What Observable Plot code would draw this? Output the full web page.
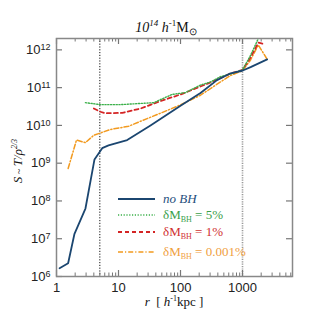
<!DOCTYPE html>
<html><head><meta charset="utf-8">
<script src="https://cdn.jsdelivr.net/npm/d3@7"></script>
<script src="https://cdn.jsdelivr.net/npm/@observablehq/plot@0.6"></script>
<style>body{margin:0;background:#fff} svg{display:block}</style>
</head><body><div id="chart"></div>
<script>
// ---- data (r in h^-1 kpc, entropy S) ----
const rNoBH = [1.12, 1.54, 1.95, 2.93, 4.1, 5.46, 6.9, 13.8, 32.8, 100, 210, 388, 640, 985, 1350, 2500];
const sNoBH = [1.66e6, 2.24e6, 1.35e7, 6.3e7, 1.26e9, 2.5e9, 2.95e9, 4.1e9, 1.0e10, 3.3e10, 7.2e10, 1.58e11, 2.4e11, 2.8e11, 3.5e11, 5.6e11];

const r5 = [2.93, 5.1, 10.8, 37, 73, 120, 210, 305, 440, 640, 1000, 1350, 1800];
const s5 = [4.0e10, 3.55e10, 3.55e10, 4.0e10, 6.6e10, 7.4e10, 1.17e11, 1.41e11, 1.95e11, 2.3e11, 2.95e11, 7.2e11, 2.0e12];

const r1 = [4.0, 5.1, 6.2, 11.5, 22.7, 47.5, 100, 175, 305, 640, 1000, 1350, 1800, 2300];
const s1 = [2.8e10, 2.3e10, 2.1e10, 2.15e10, 2.8e10, 4.4e10, 6.6e10, 9.5e10, 1.38e11, 2.35e11, 2.95e11, 6.3e11, 1.55e12, 1.4e12];

const r001 = [1.54, 2.1, 2.93, 4.0, 5.1, 7.4, 14.6, 22.7, 47.5, 100, 210, 370, 640, 1000, 1350, 1800, 2500];
const s001 = [7.2e8, 4.1e9, 3.5e9, 5.5e9, 6.3e9, 7.8e9, 9.5e9, 1.29e10, 2.1e10, 3.5e10, 6.3e10, 1.17e11, 2.1e11, 2.8e11, 5.4e11, 1.35e12, 5.6e11];

const refLines = [5, 1000];
const xMajor = [1, 10, 100, 1000];
const xLabels = ["1", "10", "100", "1000"];
const xMinor = [2,3,4,5,6,7,8,9,20,30,40,50,60,70,80,90,200,300,400,500,600,700,800,900,2000,3000,4000,5000,6000];
const yMajor = [1e6, 1e7, 1e8, 1e9, 1e10, 1e11, 1e12];
const yExp = ["6", "7", "8", "9", "10", "11", "12"];

const seriesNames = ["no BH", "5%", "1%", "0.001%"];
const colors = ["#1b4670", "#3bb04a", "#d42424", "#f29a1f"];
const textColors = ["#1f4f7d", "#3aa04a", "#d03030", "#f0a040"];
const dashes = [null, "1.2,1.6", "4,3", "5,2,1.2,2"];
const widths = [1.8, 1.4, 1.8, 1.5];

const W = 316, H = 316, mL = 56, mR = 24, mT = 38, mB = 40;
const pw = W - mL - mR, ph = H - mT - mB;

const rs = [rNoBH, r5, r1, r001];
const ss = [sNoBH, s5, s1, s001];
const lineMarks = rs.map((r, k) => Plot.line(r.map((v, i) => ({r: v, s: ss[k][i]})), {
  x: "r", y: "s", stroke: colors[k], strokeWidth: widths[k],
  strokeDasharray: dashes[k], clip: true
})).reverse();

const tickStroke = "#777";
const plot = Plot.plot({
  width: W, height: H,
  marginLeft: mL, marginRight: mR, marginTop: mT, marginBottom: mB,
  style: {fontFamily: "'Liberation Sans', Arial, sans-serif", fontSize: "13px", color: "#222", background: "#fff"},
  x: {type: "log", domain: [1, 6400]},
  y: {type: "log", domain: [1e6, 2e12]},
  marks: [
    Plot.ruleX([refLines[0]], {stroke: "#111", strokeWidth: 1, strokeDasharray: "1.2,1.6"}),
    Plot.ruleX([refLines[1]], {stroke: "#999", strokeWidth: 1.6, strokeDasharray: "1.2,1.2"}),
    ...lineMarks,
    // inward ticks
    Plot.ruleX(xMajor, {x: d => d, insetTop: ph - 6, stroke: tickStroke, strokeWidth: 1.2}),
    Plot.ruleX(xMajor, {x: d => d, insetBottom: ph - 6, stroke: tickStroke, strokeWidth: 1.2}),
    Plot.ruleX(xMinor, {x: d => d, insetTop: ph - 3.5, stroke: tickStroke, strokeWidth: 1}),
    Plot.ruleX(xMinor, {x: d => d, insetBottom: ph - 3.5, stroke: tickStroke, strokeWidth: 1}),
    Plot.ruleY(yMajor, {y: d => d, insetRight: pw - 6, stroke: tickStroke, strokeWidth: 1.2}),
    Plot.ruleY(yMajor, {y: d => d, insetLeft: pw - 6, stroke: tickStroke, strokeWidth: 1.2}),
    Plot.axisX(xMajor, {anchor: "bottom", tickSize: 0, tickPadding: 6, label: null, tickFormat: (d) => xLabels[xMajor.indexOf(d)]}),
    Plot.axisY(yMajor, {anchor: "left", tickSize: 0, tickPadding: 6, label: null, tickFormat: (d) => "10|" + yExp[yMajor.indexOf(d)]}),
    Plot.frame({stroke: "#888", strokeWidth: 1.5})
  ]
});
document.getElementById("chart").append(plot);

const svg = d3.select(plot);
// superscript exponents on y tick labels
svg.selectAll("text").each(function() {
  const t = this.textContent;
  if (t.includes("|")) {
    const [b, e] = t.split("|");
    const sel = d3.select(this);
    sel.text(null);
    sel.append("tspan").text(b);
    sel.append("tspan").attr("dy", "-0.45em").attr("font-size", "9px").text(e);
  }
});

const serif = "'Liberation Serif', 'Times New Roman', serif";
function rich(g, parts) {
  parts.forEach(p => {
    const ts = g.append("tspan").text(p.t);
    if (p.i) ts.attr("font-style", "italic");
    if (p.sz) ts.attr("font-size", p.sz);
    if (p.dy) ts.attr("dy", p.dy);
  });
}
// title
const title = svg.append("text").attr("x", 166).attr("y", 32).attr("text-anchor", "middle")
  .attr("font-family", serif).attr("font-size", 14).attr("fill", "#111");
rich(title, [{t: "10", i: 1}, {t: "14", i: 1, sz: 9, dy: "-6"}, {t: " h", i: 1, dy: "6"}, {t: "-1", sz: 9, dy: "-6"}, {t: "M", dy: "6"}, {t: "⊙", sz: 10, dy: "3"}]);

// x label
const xl = svg.append("text").attr("x", 174).attr("y", 306).attr("text-anchor", "middle")
  .attr("font-family", serif).attr("font-size", 13).attr("fill", "#111");
rich(xl, [{t: "r", i: 1}, {t: "  [ "}, {t: "h", i: 1}, {t: "-1", sz: 8, dy: "-5"}, {t: "kpc ]", dy: "5"}]);

// y label
const yl = svg.append("text").attr("transform", "translate(22,161) rotate(-90)").attr("text-anchor", "middle")
  .attr("font-family", serif).attr("font-size", 13).attr("fill", "#111");
rich(yl, [{t: "S", i: 1}, {t: " ~ ", sz: 10}, {t: "T/ρ", i: 1}, {t: "2/3", i: 1, sz: 8, dy: "-5"}]);

// legend
const legRows = [199, 215, 232, 252];
const lg = svg.append("g");
seriesNames.forEach((n, k) => {
  lg.append("line").attr("x1", 118).attr("x2", 155).attr("y1", legRows[k]).attr("y2", legRows[k])
    .attr("stroke", colors[k]).attr("stroke-width", widths[k]).attr("stroke-dasharray", dashes[k]);
  const t = lg.append("text").attr("x", 163).attr("y", legRows[k] + 4).attr("text-anchor", "start")
    .attr("font-family", serif).attr("font-size", 13).attr("fill", textColors[k]);
  if (k === 0) rich(t, [{t: "no BH", i: 1}]);
  else rich(t, [{t: "δM"}, {t: "BH", sz: 8, dy: "3"}, {t: " = " + n, dy: "-3"}]);
});
</script>
</body></html>
